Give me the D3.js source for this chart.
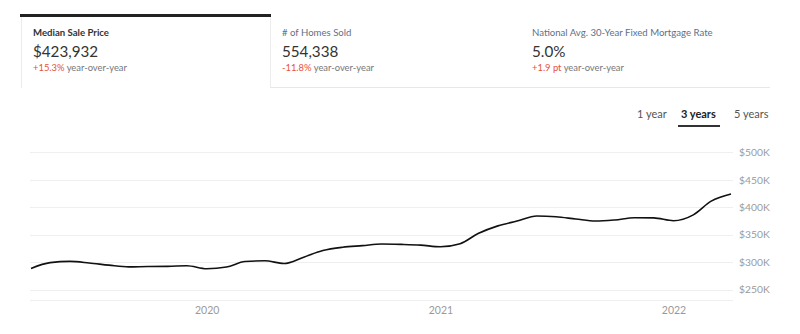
<!DOCTYPE html>
<html>
<head>
<meta charset="utf-8">
<script src="https://cdn.jsdelivr.net/npm/d3@7"></script>
<style>
  html, body { margin: 0; padding: 0; background: #fff; }
  svg { display: block; font-family: "Lato", "Open Sans", sans-serif; }
</style>
</head>
<body>
<svg id="chart" width="800" height="334"></svg>
<script>
// ---- data ----
const startMonth = "2019-04";
const prices = [288.5, 299, 301.3, 298.5, 294.5, 291.3, 292, 292.2, 293.5, 288, 291, 301,
  302.4, 297.5, 309, 321, 327, 330, 333, 332.3, 331, 328, 333.5, 352,
  366, 374.8, 384, 382.6, 378.5, 374.8, 376.8, 380.8, 380.5, 375.3, 386, 411, 423.932];
const yTicks = [250000, 300000, 350000, 400000, 450000, 500000];
const xTickYears = [2020, 2021, 2022];
const tabTitles = ["Median Sale Price", "# of Homes Sold", "National Avg. 30-Year Fixed Mortgage Rate"];
const tabValues = ["$423,932", "554,338", "5.0%"];
const tabChanges = ["+15.3%", "-11.8%", "+1.9 pt"];
const rangeOptions = ["1 year", "3 years", "5 years"];

const parseMonth = d3.timeParse("%Y-%m");
const t0 = parseMonth(startMonth);
const data = prices.map((v, i) => ({ date: d3.timeMonth.offset(t0, i), value: v * 1000 }));

const svg = d3.select("#chart");

// ---- header tabs ----
const tabX = [21, 270, 520];
const hdr = svg.append("g");
hdr.append("line").attr("x1", 270).attr("x2", 770).attr("y1", 87.5).attr("y2", 87.5)
  .attr("stroke", "#e8e8e8").attr("stroke-width", 1);
hdr.append("line").attr("x1", 21.5).attr("x2", 21.5).attr("y1", 16).attr("y2", 88)
  .attr("stroke", "#ececec");
hdr.append("line").attr("x1", 270.5).attr("x2", 270.5).attr("y1", 16).attr("y2", 88)
  .attr("stroke", "#ececec");
hdr.append("rect").attr("x", 20).attr("y", 14).attr("width", 251).attr("height", 3).attr("fill", "#222");

const titleSizes = [9.6, 9.6, 9.6];
tabTitles.forEach((t, i) => {
  const x = tabX[i] + 12;
  hdr.append("text").attr("x", x).attr("y", 36).text(t)
    .attr("font-size", titleSizes[i])
    .attr("font-weight", i === 0 ? 700 : 400)
    .attr("fill", i === 0 ? "#333" : "#5f7089");
  hdr.append("text").attr("x", x).attr("y", 57).text(tabValues[i])
    .attr("font-size", 15.2).attr("fill", "#333");
  const sub = hdr.append("text").attr("x", x).attr("y", 71).attr("font-size", 9.4);
  sub.append("tspan").text(tabChanges[i]).attr("fill", "#e8503a");
  sub.append("tspan").text(" year-over-year").attr("fill", "#777");
});

// ---- range selector ----
const optX = [637, 681, 734];
rangeOptions.forEach((o, i) => {
  svg.append("text").attr("x", optX[i]).attr("y", 118).text(o)
    .attr("font-size", 11)
    .attr("font-weight", i === 1 ? 700 : 400)
    .attr("fill", i === 1 ? "#222" : "#555");
});
svg.append("rect").attr("x", 678).attr("y", 125).attr("width", 42).attr("height", 2).attr("fill", "#333");

// ---- chart ----
const x = d3.scaleTime()
  .domain(d3.extent(data, d => d.date))
  .range([31, 731]);
const y = d3.scaleLinear()
  .domain([231000, 500000])
  .range([300, 152.3]);

const grid = svg.append("g");
grid.selectAll("line.g").data(yTicks).join("line")
  .attr("x1", 30).attr("x2", 733)
  .attr("y1", d => Math.round(y(d)) + 0.5).attr("y2", d => Math.round(y(d)) + 0.5)
  .attr("stroke", "#efefef").attr("stroke-width", 1.2);
grid.append("line").attr("x1", 30).attr("x2", 733).attr("y1", 300.5).attr("y2", 300.5)
  .attr("stroke", "#efefef").attr("stroke-width", 1.2);

// y axis labels
const yAxis = d3.axisRight(y).tickValues(yTicks).tickSize(0).tickPadding(0)
  .tickFormat(d => "$" + d / 1000 + "K");
const yg = svg.append("g").attr("transform", "translate(739,0)").call(yAxis);
yg.select(".domain").remove();
yg.selectAll("text").attr("font-size", 10.3).attr("fill", "#9a9a9a").attr("font-family", "Lato, sans-serif");

// x axis labels
const xAxis = d3.axisBottom(x)
  .tickValues(xTickYears.map(yr => new Date(yr, 0, 1)))
  .tickSize(0).tickPadding(0)
  .tickFormat(d3.timeFormat("%Y"));
const xg = svg.append("g").attr("transform", "translate(0,307)").call(xAxis);
xg.select(".domain").remove();
xg.selectAll("text").attr("font-size", 10.5).attr("fill", "#9a9a9a").attr("font-family", "Lato, sans-serif");

// line
const line = d3.line()
  .x(d => x(d.date))
  .y(d => y(d.value))
  .curve(d3.curveMonotoneX);
svg.append("path").datum(data)
  .attr("d", line)
  .attr("fill", "none")
  .attr("stroke", "#111")
  .attr("stroke-width", 1.6)
  .attr("stroke-linejoin", "round");
</script>
</body>
</html>
